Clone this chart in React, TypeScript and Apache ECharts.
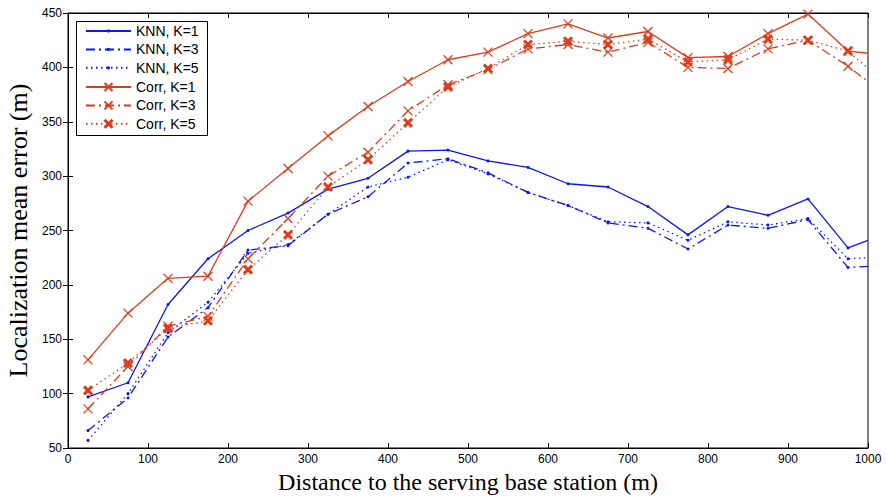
import React, { useEffect, useRef } from "react";
import * as echarts from "echarts";

// Distance bins (m) where errors were evaluated; the last entry is the axis edge.
const distances = [25, 75, 125, 175, 225, 275, 325, 375, 425, 475, 525, 575, 625, 675, 725, 775, 825, 875, 925, 975, 1000];

const knnK1 = [97, 110, 182, 224, 250, 266, 288, 298, 323, 324, 314, 308, 293, 290, 272, 246, 272, 264, 279, 234, 241];
const knnK3 = [66, 96, 152, 179, 232, 236, 265, 281, 312, 316, 303, 285, 273, 257, 252, 233, 255, 252, 260, 216, 217];
const knnK5 = [57, 100, 156, 184, 229, 237, 265, 290, 299, 315, 302, 285, 273, 258, 257, 241, 258, 255, 261, 224, 225];
const corrK1 = [131, 174, 206, 208, 277, 307, 337, 364, 387, 407, 414, 431, 440, 427, 433, 409, 410, 431, 449, 415, 413];
const corrK3 = [86, 125, 162, 171, 224, 261, 300, 322, 360, 384, 398, 417, 421, 414, 423, 400, 399, 417, 425, 401, 387];
const corrK5 = [103, 128, 160, 167, 214, 246, 290, 315, 349, 382, 399, 421, 424, 421, 426, 405, 407, 426, 425, 415, 399];

const knnNames = ["KNN, K=1", "KNN, K=3", "KNN, K=5"];
const corrNames = ["Corr, K=1", "Corr, K=3", "Corr, K=5"];

const BLUE = "#0a14ff";
const RED = "#dc3c1c";
const CROSS = "path://M0,0L10,10M10,0L0,10";
const DASH_DOT = [9, 4, 2, 4];
const DOTTED = [1.5, 3.5];

function toPoints(values: number[]) {
  return values.map((v, i) => {
    const pt: any = { value: [distances[i], v] };
    // the closing point sits on the axis edge and carries no marker
    if (i === distances.length - 1) pt.symbol = "none";
    return pt;
  });
}

function makeSeries(
  name: string,
  values: number[],
  color: string,
  dash: any,
  symbol: string,
  symbolSize: number,
  borderWidth: number
) {
  return {
    name,
    type: "line",
    data: toPoints(values),
    symbol,
    symbolSize,
    showSymbol: true,
    lineStyle: { color, width: 1.3, type: dash },
    itemStyle: { color, borderColor: color, borderWidth },
    emphasis: { disabled: true },
    z: 3,
  };
}

export default function App() {
  const ref = useRef<HTMLDivElement>(null);

  useEffect(() => {
    if (!ref.current) return;
    const chart = echarts.init(ref.current, undefined, { renderer: "svg" });
    const tickLabel = {
      fontFamily: "Liberation Sans",
      fontSize: 12,
      color: "#000",
      formatter: (v: number) => String(v),
    };
    const lineBlack = { lineStyle: { color: "#000", width: 1 } };
    const legendText = { fontFamily: "Liberation Sans", fontSize: 14, color: "#000" };

    chart.setOption({
      animation: false,
      backgroundColor: "#fff",
      grid: {
        left: 68,
        right: 18,
        top: 13,
        bottom: 48,
        outerBoundsMode: "none",
        containLabel: false,
        show: true,
        borderColor: "#000",
        borderWidth: 1,
        backgroundColor: "transparent",
      },
      graphic: [
        {
          type: "rect",
          left: 76,
          top: 21,
          shape: { width: 131, height: 114 },
          style: { fill: "#fff", stroke: "#000", lineWidth: 1 },
          z: 10,
        },
      ],
      legend: [
        {
          orient: "vertical",
          left: 85,
          top: 24,
          padding: 0,
          itemGap: 4.4,
          itemWidth: 45,
          itemHeight: 4,
          z: 11,
          textStyle: legendText,
          data: knnNames,
        },
        {
          orient: "vertical",
          left: 85,
          top: 80,
          padding: 0,
          itemGap: 4.4,
          itemWidth: 45,
          itemHeight: 10,
          z: 11,
          textStyle: legendText,
          data: [
            corrNames[0],
            corrNames[1],
            { name: corrNames[2], itemStyle: { borderWidth: 3 } },
          ],
        },
      ],
      xAxis: [
        {
          type: "value",
          min: 0,
          max: 1000,
          interval: 100,
          name: "Distance to the serving base station (m)",
          nameLocation: "middle",
          nameGap: 20,
          nameTextStyle: { fontFamily: "Liberation Serif", fontSize: 24, color: "#000" },
          axisLine: lineBlack,
          axisTick: { inside: true, length: 5, ...lineBlack },
          axisLabel: { ...tickLabel, margin: 5 },
          splitLine: { show: false },
        },
        {
          type: "value",
          position: "top",
          min: 0,
          max: 1000,
          interval: 100,
          axisLine: lineBlack,
          axisTick: { inside: true, length: 5, ...lineBlack },
          axisLabel: { show: false },
          splitLine: { show: false },
        },
      ],
      yAxis: [
        {
          type: "value",
          min: 50,
          max: 450,
          interval: 50,
          name: "Localization mean error (m)",
          nameLocation: "middle",
          nameGap: 34,
          nameTextStyle: { fontFamily: "Liberation Serif", fontSize: 26, color: "#000" },
          axisLine: { show: true, ...lineBlack },
          axisTick: { show: true, inside: true, length: 5, ...lineBlack },
          axisLabel: { ...tickLabel, margin: 6 },
          splitLine: { show: false },
        },
        {
          type: "value",
          position: "right",
          min: 50,
          max: 450,
          interval: 50,
          axisLine: { show: true, ...lineBlack },
          axisTick: { show: true, inside: true, length: 5, ...lineBlack },
          axisLabel: { show: false },
          splitLine: { show: false },
        },
      ],
      series: [
        makeSeries(knnNames[0], knnK1, BLUE, "solid", "circle", 3, 0),
        makeSeries(knnNames[1], knnK3, BLUE, DASH_DOT, "circle", 3, 0),
        makeSeries(knnNames[2], knnK5, BLUE, DOTTED, "circle", 3, 0),
        makeSeries(corrNames[0], corrK1, RED, "solid", CROSS, 9, 1.3),
        makeSeries(corrNames[1], corrK3, RED, DASH_DOT, CROSS, 9, 1.3),
        makeSeries(corrNames[2], corrK5, RED, DOTTED, CROSS, 8, 3),
      ],
    });

    return () => chart.dispose();
  }, []);

  return <div ref={ref} style={{ width: 886, height: 496, position: "absolute", left: 0, top: 0 }} />;
}
